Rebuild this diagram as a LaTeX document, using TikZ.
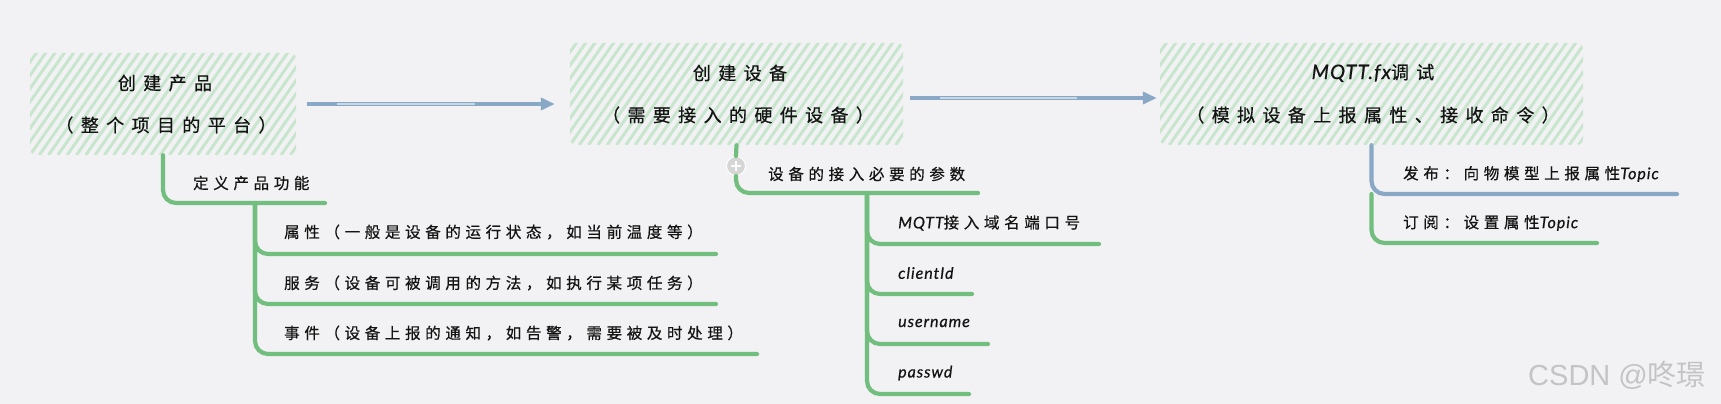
\documentclass[tikz,border=0pt]{standalone}
\usepackage{fontspec}
\usetikzlibrary{arrows.meta,calc}
\setmainfont{Noto Sans CJK SC}
\newfontfamily\cjkS{Noto Sans CJK SC}[LetterSpace=30, FakeBold=0.6]
\newfontfamily\cjkT{Noto Sans CJK SC}[LetterSpace=41, FakeBold=0.6]
\newfontfamily\latS{Lato}[LetterSpace=6, FakeBold=0.6]
\newfontfamily\wmf{Liberation Sans}
\newcommand{\myit}[1]{{\latS\itshape #1}}
\definecolor{bg}{RGB}{242,242,244}
\definecolor{hatchc}{RGB}{200,230,205}
\definecolor{brgreen}{RGB}{114,190,126}
\definecolor{brblue}{RGB}{136,168,198}
\definecolor{txt}{RGB}{20,20,20}
\definecolor{wm}{RGB}{196,196,198}
\definecolor{plusc}{RGB}{214,214,214}
\begin{document}
\begin{tikzpicture}[x=1pt,y=-1pt,
  hatchbox/.style={inner sep=0pt, rounded corners=6pt, path picture={
    \foreach \k in {-10,...,50}
      \draw[hatchc, line width=3pt] ($(path picture bounding box.south west)+(\k*9.3pt,0pt)$) -- ++(55:220pt);
  }},
  ttl/.style={inner sep=0pt, text=txt, font=\cjkT\fontsize{18}{22}\selectfont},
  lbl/.style={anchor=west, inner sep=0pt, text=txt, font=\cjkS\fontsize{15.5}{18}\selectfont},
  branch/.style={draw=brgreen, line width=4.2pt, line cap=round, rounded corners=13pt},
  bbranch/.style={branch, draw=brblue},
  flow/.style={draw=brblue, line width=4pt, -{Triangle[length=14pt,width=12pt]},
    postaction={draw=white!55!brblue, line width=1.1pt, -, shorten <=30pt, shorten >=80pt}},
  plus/.style={circle, fill=plusc, draw=white, line width=1pt, minimum size=19pt, inner sep=0pt,
    path picture={\draw[white, line width=1.8pt]
      ($(path picture bounding box.center)+(-5pt,0pt)$) -- ++(10pt,0pt)
      ($(path picture bounding box.center)+(0pt,-5pt)$) -- ++(0pt,10pt);}}
]
\useasboundingbox (0,0) rectangle (1721,404);
\fill[bg] (0,0) rectangle (1721,404);

% main boxes
\node[hatchbox, minimum width=266pt, minimum height=102pt] (box1) at (163,104) {};
\node[hatchbox, minimum width=333pt, minimum height=102pt] (box2) at (736.5,94) {};
\node[hatchbox, minimum width=423pt, minimum height=102pt] (box3) at (1371.5,94) {};

\node[ttl] (t1a) at (165,83) {创建产品};
\node[ttl] (t1b) at (166,125) {（整个项目的平台）};
\node[ttl] (t2a) at (740,73) {创建设备};
\node[ttl] (t2b) at (738,115) {（需要接入的硬件设备）};
\node[ttl] (t3a) at (1373,73) {\myit{\fontsize{20}{22}\selectfont MQTT.fx}调试};
\node[ttl] (t3b) at (1373,115) {（模拟设备上报属性、接收命令）};

% flow arrows
\draw[flow] ([xshift=11pt]box1.east) -- ([xshift=-15pt]box1.east -| box2.west);
\draw[flow] ([shift={(7,4)}]box2.east) -- ([shift={(-3,4)}]box2.east -| box3.west);

% branch of box1
\coordinate (d1e) at (325,203);
\coordinate (s1) at (255,203);
\coordinate (e11) at (716,254);
\coordinate (e12) at (716,304);
\coordinate (e13) at (757,354);
\draw[branch] (box1.south) |- (d1e);
\draw[branch] (s1) |- (e11);
\draw[branch] (s1) |- (e12);
\draw[branch] (s1) |- (e13);
\node[lbl] (l1) at (193,183) {定义产品功能};
\node[lbl] (l11) at (284,232) {属性（一般是设备的运行状态，如当前温度等）};
\node[lbl] (l12) at (284,283) {服务（设备可被调用的方法，如执行某项任务）};
\node[lbl] (l13) at (284,333) {事件（设备上报的通知，如告警，需要被及时处理）};

% branch of box2
\node[plus] (pl) at (736,166) {};
\coordinate (p2e) at (978,193);
\coordinate (s2) at (867,193);
\coordinate (e21) at (1099,244);
\coordinate (e22) at (972,294);
\coordinate (e23) at (988,344);
\coordinate (e24) at (969,394);
\draw[branch] (box2.south) -- (pl.north);
\draw[branch] (pl.south) |- (p2e);
\draw[branch] (s2) |- (e21);
\draw[branch] (s2) |- (e22);
\draw[branch] (s2) |- (e23);
\draw[branch] (s2) |- (e24);
\node[lbl] (l2) at (768,174) {设备的接入必要的参数};
\node[lbl] (l21) at (898,223) {\myit{\fontsize{16}{18}\selectfont MQTT}接入域名端口号};
\node[lbl] (l22) at (898,273) {\myit{\fontsize{16}{18}\selectfont clientId}};
\node[lbl] (l23) at (898,323) {\myit{\fontsize{16}{18}\selectfont username}};
\node[lbl] (l24) at (898,373) {\myit{\fontsize{16}{18}\selectfont passwd}};

% branch of box3
\coordinate (s3) at (1371.5,194);
\coordinate (e31) at (1677,194);
\coordinate (e32) at (1597,243);
\draw[branch] (s3) |- (e32);
\draw[bbranch] (box3.south) |- (e31);
\node[lbl] (l31) at (1403,174) {发布：向物模型上报属性\myit{\fontsize{16}{18}\selectfont Topic}};
\node[lbl] (l32) at (1403,223) {订阅：设置属性\myit{\fontsize{16}{18}\selectfont Topic}};

% watermark
\node[anchor=west, inner sep=0pt, text=wm, font=\wmf\fontsize{29}{32}\selectfont] (wmk) at (1528,375) {CSDN @{\rmfamily 咚璟}};
\end{tikzpicture}
\end{document}
